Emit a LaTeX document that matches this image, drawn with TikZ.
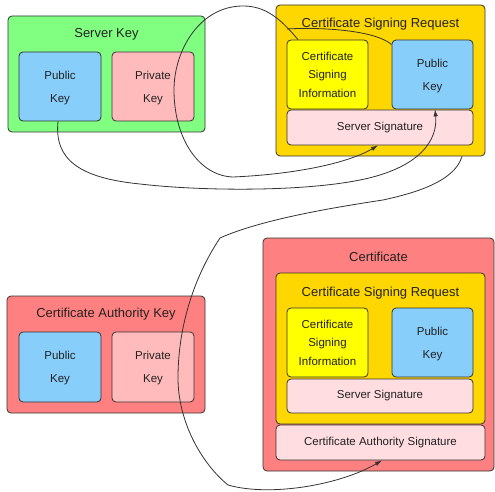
\documentclass[tikz,border=0pt]{standalone}
\usepackage{fontspec}
\setmainfont{Liberation Sans}
\usetikzlibrary{arrows.meta}
\definecolor{cgreen}{HTML}{80FF80}
\definecolor{cblue}{HTML}{87CEFA}
\definecolor{cpriv}{HTML}{FFBBBB}
\definecolor{cgold}{HTML}{FFD700}
\definecolor{cyel}{HTML}{FFFF00}
\definecolor{csig}{HTML}{FFDDE1}
\definecolor{cred}{HTML}{FF8080}
\definecolor{cline}{HTML}{333333}
\definecolor{ctext}{HTML}{222222}
\tikzset{
  box/.style={draw=cline, line width=0.8pt, rounded corners=4pt, inner sep=0pt, align=center, text=ctext},
  ttl/.style={font=\fontsize{13}{15}\selectfont, inner sep=0pt, anchor=base, text=ctext},
  keytxt/.style={font=\fontsize{11.5}{23}\selectfont, text depth=-2pt},
  infotxt/.style={font=\fontsize{11.5}{18.5}\selectfont},
  sigtxt/.style={font=\fontsize{11.5}{13}\selectfont},
  conn/.style={draw=cline, line width=0.8pt},
  arr/.style={conn, -{Latex[length=7pt,width=4.5pt]}}
}
\begin{document}
\begin{tikzpicture}[x=1pt, y=-1pt]
\useasboundingbox (0,0) rectangle (495,492);
% Server Key
\node[box, fill=cgreen, minimum width=197pt, minimum height=116pt] (sk) at (106.5,74) {};
\node[ttl] (skt) at (106.5,37.5) {Server Key};
\node[box, fill=cblue, minimum width=82pt, minimum height=69pt, keytxt] (skpub) at (60,86.5) {Public\\Key};
\node[box, fill=cpriv, minimum width=82pt, minimum height=69pt, keytxt] (skpriv) at (153,86.5) {Private\\Key};
% CSR (top)
\node[box, fill=cgold, minimum width=209pt, minimum height=151pt] (csr1) at (380.5,80.5) {};
\node[ttl] (csr1t) at (380.5,27.5) {Certificate Signing Request};
\node[box, fill=cyel, minimum width=81pt, minimum height=69pt, infotxt] (csi1) at (327.5,74.5) {Certificate\\Signing\\Information};
\node[box, fill=cblue, minimum width=81pt, minimum height=69pt, keytxt] (pk1) at (432.5,74.5) {Public\\Key};
\node[box, fill=csig, minimum width=186pt, minimum height=35pt, sigtxt] (ss1) at (380,127.5) {Server Signature};
% CA Key
\node[box, fill=cred, minimum width=198pt, minimum height=117pt] (ca) at (106,354.5) {};
\node[ttl] (cat) at (106,317.5) {Certificate Authority Key};
\node[box, fill=cblue, minimum width=82pt, minimum height=70pt, keytxt] (capub) at (60,367) {Public\\Key};
\node[box, fill=cpriv, minimum width=82pt, minimum height=70pt, keytxt] (capriv) at (153,367) {Private\\Key};
% Certificate
\node[box, fill=cred, minimum width=231pt, minimum height=233pt] (cert) at (378.5,354.5) {};
\node[ttl] (certt) at (378.5,261.5) {Certificate};
\node[box, fill=cgold, minimum width=209pt, minimum height=151pt] (csr2) at (380.5,348.5) {};
\node[ttl] (csr2t) at (380.5,296.5) {Certificate Signing Request};
\node[box, fill=cyel, minimum width=81pt, minimum height=69pt, infotxt] (csi2) at (327.5,342.5) {Certificate\\Signing\\Information};
\node[box, fill=cblue, minimum width=81pt, minimum height=69pt, keytxt] (pk2) at (432.5,342.5) {Public\\Key};
\node[box, fill=csig, minimum width=186pt, minimum height=34pt, sigtxt] (ss2) at (380,396) {Server Signature};
\node[box, fill=csig, minimum width=209pt, minimum height=35pt, sigtxt] (cas) at (380.5,442.5) {Certificate Authority Signature};
% Connectors
\draw[arr] ([xshift=-29.5pt]csi1.north)
  .. controls (280,18) and (265,6) .. (243,6)
  .. controls (200,6) and (174,50) .. (174,90)
  .. controls (174,140) and (200,176) .. (233,177)
  .. controls (300,174) and (350,162) .. ([xshift=-2pt]ss1.south);
\coordinate (ajoin) at (287,29);
\draw[conn] ([yshift=-5pt]pk1.north west) .. controls (375,30) and (320,27) .. (ajoin);
\draw[arr] ([xshift=-2pt]skpub.south)
  .. controls (54,160) and (80,178) .. (140,184)
  .. controls (200,191) and (300,192) .. (360,180)
  .. controls (420,168) and (438,140) .. ([xshift=2.5pt]pk1.south);
\draw[arr] ([xshift=81.5pt]csr1.south)
  .. controls (455,180) and (420,192) .. (383,200)
  .. controls (330,208) and (260,220) .. (220,238)
  .. controls (192,280) and (178,330) .. (178,378)
  .. controls (178,420) and (200,462) .. (228,485)
  .. controls (270,497) and (340,485) .. ([xshift=1.5pt]cas.south);
\end{tikzpicture}
\end{document}
